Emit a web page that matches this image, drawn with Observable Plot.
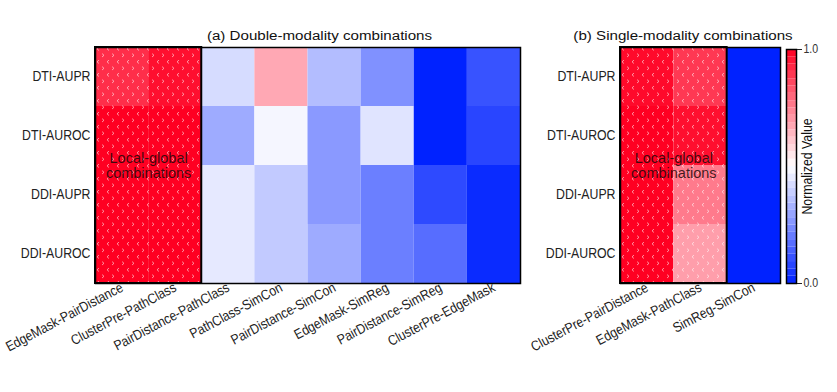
<!DOCTYPE html>
<html><head><meta charset="utf-8">
<script src="https://cdn.jsdelivr.net/npm/d3@7"></script>
<script src="https://cdn.jsdelivr.net/npm/@observablehq/plot@0.6"></script>
<style>
body{margin:0;background:#fff;}
#wrap{position:relative;width:837px;height:392px;overflow:hidden;font-family:"Liberation Sans",Arial,sans-serif;}
#wrap > svg{position:absolute;top:0;}
</style></head><body><div id="wrap"></div>
<script>
// ---- data ----
const rows = ["DTI-AUPR", "DTI-AUROC", "DDI-AUPR", "DDI-AUROC"];

const doubleCombos = ["EdgeMask-PairDistance", "ClusterPre-PathClass", "PairDistance-PathClass",
  "PathClass-SimCon", "PairDistance-SimCon", "EdgeMask-SimReg", "PairDistance-SimReg", "ClusterPre-EdgeMask"];
const doubleValues = [
  [0.91, 0.97, 0.42, 0.67, 0.35, 0.25, 0.00, 0.11],
  [1.00, 1.00, 0.31, 0.48, 0.27, 0.44, 0.00, 0.08],
  [1.00, 1.00, 0.45, 0.38, 0.27, 0.21, 0.09, 0.02],
  [1.00, 1.00, 0.45, 0.38, 0.31, 0.21, 0.17, 0.02]
];
const doubleLocalGlobal = ["EdgeMask-PairDistance", "ClusterPre-PathClass"];

const singleCombos = ["ClusterPre-PairDistance", "EdgeMask-PathClass", "SimReg-SimCon"];
const singleValues = [
  [0.98, 0.89, 0.00],
  [1.00, 0.97, 0.00],
  [1.00, 0.76, 0.00],
  [1.00, 0.69, 0.00]
];
const singleLocalGlobal = ["ClusterPre-PairDistance", "EdgeMask-PathClass"];

const titles = ["(a) Double-modality combinations", "(b) Single-modality combinations"];
const localLabel = "Local-global\ncombinations";
const legendLabel = "Normalized Value";
const legendTicks = [0, 1];
const legendSteps = 32;

// ---- styles ----
const font = '"Liberation Sans",Arial,sans-serif';
const colorInterp = d3.piecewise(d3.interpolateRgb, ["rgb(0,34,255)", "#ffffff", "rgb(255,0,34)"]);
const colorOpts = {type: "linear", domain: [0, 1], interpolate: colorInterp};

function addPattern(svg, id) {
  const ns = "http://www.w3.org/2000/svg";
  const defs = document.createElementNS(ns, "defs");
  defs.innerHTML = `<pattern id="${id}" patternUnits="userSpaceOnUse" width="10" height="13">
    <path d="M2,1.6 L4,3.3 L2,5" fill="none" stroke="#fff" stroke-opacity="0.6" stroke-width="0.9"/>
    <path d="M9,8.1 L7,9.8 L9,11.5" fill="none" stroke="#fff" stroke-opacity="0.6" stroke-width="0.9"/>
  </pattern>`;
  svg.insertBefore(defs, svg.firstChild);
}

// horizontally scale text glyphs (narrow / wide look of the reference)
function squeeze(svg, selector, sx) {
  svg.querySelectorAll(selector).forEach(t => {
    const tr = t.getAttribute("transform") || "";
    const x = t.getAttribute("x");
    if (x !== null && x !== "" && !isNaN(+x)) t.setAttribute("x", +x / sx);
    t.setAttribute("transform", `${tr} scale(${sx},1)`.trim());
  });
}

function heatmap({combos, values, localGlobal, title, titleDx, width, marginLeft, marginRight, id}) {
  const data = [];
  rows.forEach((r, i) => combos.forEach((c, j) =>
    data.push({row: r, combo: c, x: j, y: i, value: values[i][j], local: localGlobal.includes(c)})));
  const idx = localGlobal.map(c => combos.indexOf(c));
  const lg = {x1: Math.min(...idx), x2: Math.max(...idx) + 1, y1: 0, y2: rows.length};
  const svg = Plot.plot({
    width, height: 392, marginTop: 47, marginBottom: 109, marginLeft, marginRight,
    style: {fontFamily: font, color: "#222", background: "transparent", overflow: "visible"},
    x: {domain: [0, combos.length], axis: null},
    y: {domain: [0, rows.length], reverse: true, axis: null},
    color: colorOpts,
    marks: [
      Plot.rect(data, {x1: "x", x2: d => d.x + 1, y1: "y", y2: d => d.y + 1, fill: "value"}),
      Plot.rect(data.filter(d => d.local), {x1: "x", x2: d => d.x + 1, y1: "y", y2: d => d.y + 1, fill: `url(#${id})`}),
      Plot.rect([lg], {x1: "x1", x2: "x2", y1: "y1", y2: "y2", fill: "none", stroke: "black", strokeWidth: 2}),
      Plot.frame({stroke: "black", strokeWidth: 1.5}),
      Plot.text([localLabel], {x: (lg.x1 + lg.x2) / 2, y: rows.length / 2, text: d => d,
        fontSize: 14.5, lineHeight: 1.05, fill: "#1a0a0a", fillOpacity: 0.85}),
      Plot.text([title], {frameAnchor: "top", dy: -12, dx: titleDx, text: d => d, lineAnchor: "middle",
        textAnchor: "middle", fontSize: 13.5, fill: "#111", ariaLabel: () => "panel-title"}),
      Plot.axisX({ticks: combos.map((_, j) => j + 0.5), tickFormat: t => combos[Math.floor(t)],
        tickRotate: -28, tickSize: 0, tickPadding: 3, label: null, fontSize: 14}),
      Plot.axisY({ticks: rows.map((_, i) => i + 0.5), tickFormat: t => rows[Math.floor(t)],
        tickSize: 0, tickPadding: 5, label: null, fontSize: 14})
    ]
  });
  addPattern(svg, id);
  squeeze(svg, 'g[aria-label="x-axis tick label"] text', 0.87);
  squeeze(svg, 'g[aria-label="y-axis tick label"] text', 0.88);
  squeeze(svg, 'text[aria-label="panel-title"]', 1.12);
  return svg;
}

const wrap = document.getElementById("wrap");

const left = heatmap({combos: doubleCombos, values: doubleValues, localGlobal: doubleLocalGlobal,
  title: titles[0], titleDx: 11.5, width: 523, marginLeft: 95, marginRight: 3, id: "patA"});
left.style.left = "0px";
wrap.appendChild(left);

const right = heatmap({combos: singleCombos, values: singleValues, localGlobal: singleLocalGlobal,
  title: titles[1], titleDx: -17.5, width: 258, marginLeft: 95, marginRight: 3, id: "patB"});
right.style.left = "525px";
wrap.appendChild(right);

// ---- colour bar ----
const steps = d3.range(legendSteps).map(k => ({v0: k / legendSteps, v1: (k + 1) / legendSteps, mid: (k + 0.5) / legendSteps}));
const bar = Plot.plot({
  width: 57, height: 392, marginTop: 49, marginBottom: 109, marginLeft: 6, marginRight: 41,
  style: {fontFamily: font, color: "#333", background: "transparent", overflow: "visible"},
  x: {domain: [0, 1], axis: null},
  y: {domain: [0, 1], axis: null},
  color: colorOpts,
  marks: [
    Plot.rect(steps, {x1: 0, x2: 1, y1: "v0", y2: "v1", fill: "mid"}),
    Plot.frame({stroke: "black", strokeWidth: 1.5}),
    Plot.axisY({anchor: "right", ticks: legendTicks, tickFormat: d3.format(".1f"), tickSize: 5,
      tickPadding: 2, label: null, fontSize: 12, stroke: "#222"}),
    Plot.text([legendLabel], {frameAnchor: "right", dx: 11, rotate: -90, text: d => d,
      textAnchor: "middle", lineAnchor: "middle", fontSize: 14, fill: "#111", ariaLabel: () => "legend-label"})
  ]
});
squeeze(bar, 'g[aria-label="y-axis tick label"] text', 0.88);
squeeze(bar, 'text[aria-label="legend-label"]', 0.88);
bar.style.left = "780px";
wrap.appendChild(bar);
</script></body></html>
